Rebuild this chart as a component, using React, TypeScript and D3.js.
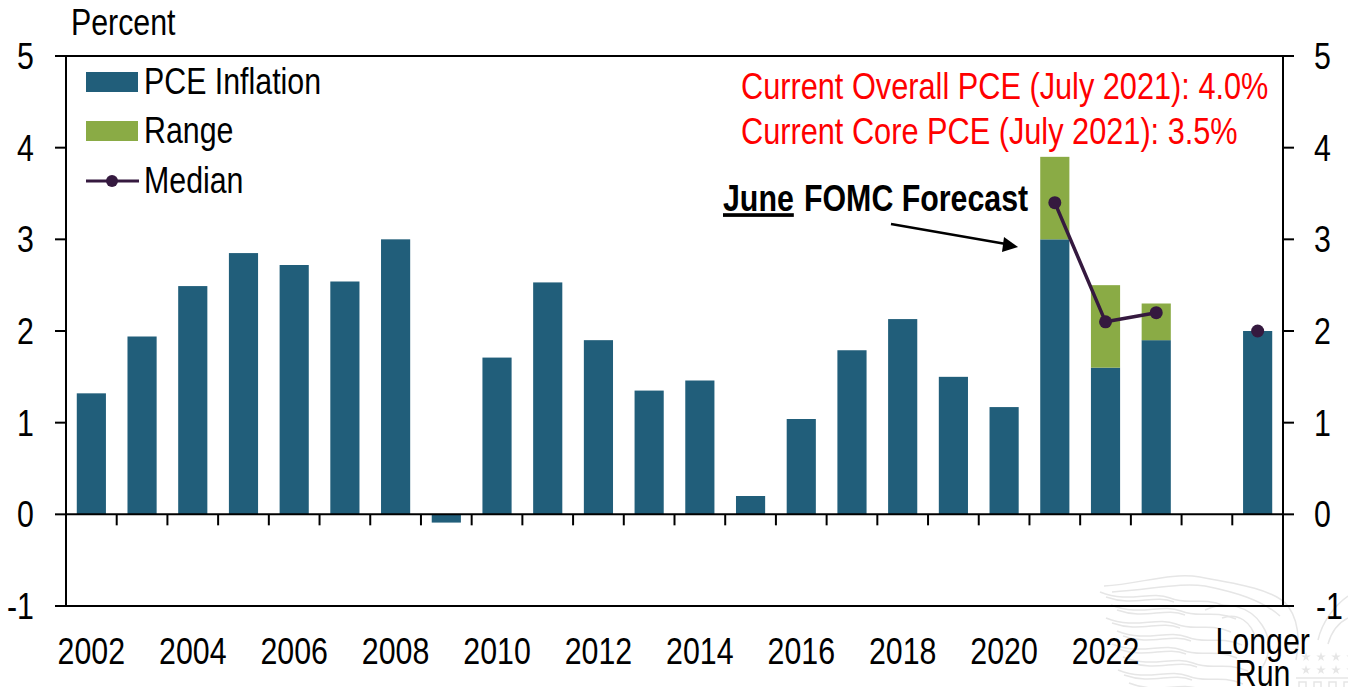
import { useEffect, useRef } from 'react';
import * as d3 from 'd3';

const categories = ['2002','2003','2004','2005','2006','2007','2008','2009','2010','2011','2012','2013','2014','2015','2016','2017','2018','2019','2020','2021','2022','2023','blank','LR'];
const pceValues = [1.32,1.94,2.49,2.85,2.72,2.54,3.0,-0.09,1.71,2.53,1.9,1.35,1.46,0.2,1.04,1.79,2.13,1.5,1.17,3.0,1.6,1.9,null,2.0];
const rangeCats = ['2021','2022','2023'];
const rangeLow = [3.0,1.6,1.9];
const rangeHigh = [3.9,2.5,2.3];
const medianCats = ['2021','2022','2023'];
const medianValues = [3.4,2.1,2.2];
const longerRunMedian = 2.0;
const yTicks = [-1,0,1,2,3,4,5];

const BLUE = '#215e7a';
const GREEN = '#8aab45';
const PURPLE = '#35193f';
const FONT = '"Liberation Sans", Arial, sans-serif';

export default function App() {
  const svgRef = useRef<SVGSVGElement>(null);

  useEffect(() => {
    const svg = d3.select(svgRef.current);
    svg.selectAll('*').remove();
    svg.attr('font-family', FONT);

    const left = 66, right = 1283, top = 56, bottom = 606;
    const x = d3.scaleBand().domain(categories).range([left, right]).paddingInner(0.425).paddingOuter(0.2125);
    const y = d3.scaleLinear().domain([-1, 5]).range([bottom, top]);
    const cx = (c: string) => x(c)! + x.bandwidth() / 2;
    const step = (right - left) / categories.length;

    // faint eagle watermark in the corner, behind everything
    const mark = svg.append('g').attr('fill', 'none').attr('stroke', '#e6e6e6').attr('stroke-width', 1.5);
    d3.range(8).forEach(i => {
      const y0 = 592 + i * 13;
      const x0 = 1100 + (i % 2) * 8 + i * 3;
      mark.append('path').attr('d', `M${x0},${y0} C${x0 + 30},${y0 + 12} ${x0 + 50},${y0 - 2} ${x0 + 70},${y0 + 6} S${x0 + 100},${y0 + 4} ${x0 + 125},${y0 + 14}`);
      mark.append('path').attr('d', `M${x0 + 6},${y0 + 5} C${x0 + 34},${y0 + 15} ${x0 + 54},${y0 + 2} ${x0 + 74},${y0 + 10}`);
    });
    mark.append('path').attr('d', 'M1104,586 C1140,584 1170,572 1200,577 C1240,584 1275,590 1288,606 C1298,620 1300,640 1296,660');
    mark.append('path').attr('d', 'M1112,592 C1150,590 1180,582 1205,586 C1235,592 1262,600 1280,616');
    mark.append('path').attr('d', 'M1205,610 C1225,600 1250,606 1262,625 C1272,640 1270,655 1262,668');
    mark.append('path').attr('d', 'M1222,618 C1238,612 1252,622 1256,640');
    mark.append('path').attr('d', 'M1318,640 C1322,622 1335,605 1348,596');
    mark.append('path').attr('d', 'M1328,644 C1332,630 1340,622 1348,618');
    mark.append('line').attr('x1', 1296).attr('x2', 1348).attr('y1', 678).attr('y2', 678);
    const star = d3.symbol().type(d3.symbolStar).size(28);
    d3.range(4).forEach(i => {
      d3.range(2).forEach(j => {
        mark.append('path').attr('d', star()).attr('transform', `translate(${1306 + i * 15},${657 + j * 13})`)
          .attr('fill', '#e6e6e6').attr('stroke', 'none');
      });
      mark.append('rect').attr('x', 1299 + i * 15).attr('y', 682).attr('width', 7).attr('height', 7);
    });

    // bars
    svg.append('g').selectAll('rect')
      .data(categories.map((c, i) => ({ c, v: pceValues[i] })).filter(d => d.v !== null))
      .join('rect')
      .attr('x', d => x(d.c)!)
      .attr('width', x.bandwidth())
      .attr('y', d => y(Math.max(0, d.v as number)))
      .attr('height', d => Math.abs(y(d.v as number) - y(0)))
      .attr('fill', BLUE);

    svg.append('g').selectAll('rect')
      .data(rangeCats.map((c, i) => ({ c, lo: rangeLow[i], hi: rangeHigh[i] })))
      .join('rect')
      .attr('x', d => x(d.c)!)
      .attr('width', x.bandwidth())
      .attr('y', d => y(d.hi))
      .attr('height', d => y(d.lo) - y(d.hi))
      .attr('fill', GREEN);

    // frame + axes
    const axes = svg.append('g').attr('stroke', '#000').attr('stroke-width', 2).attr('fill', 'none');
    axes.append('line').attr('x1', left - 11).attr('x2', right).attr('y1', top).attr('y2', top);
    axes.append('line').attr('x1', left - 11).attr('x2', right + 11).attr('y1', bottom).attr('y2', bottom);
    axes.append('line').attr('x1', left).attr('x2', left).attr('y1', top).attr('y2', bottom);
    axes.append('line').attr('x1', right).attr('x2', right).attr('y1', top).attr('y2', bottom);
    axes.append('line').attr('x1', left).attr('x2', right).attr('y1', y(0)).attr('y2', y(0));
    yTicks.forEach(t => {
      axes.append('line').attr('x1', left - 11).attr('x2', left).attr('y1', y(t)).attr('y2', y(t));
      axes.append('line').attr('x1', right).attr('x2', right + 11).attr('y1', y(t)).attr('y2', y(t));
    });
    d3.range(1, categories.length).forEach(i => {
      const px = left + i * step;
      axes.append('line').attr('x1', px).attr('x2', px).attr('y1', y(0)).attr('y2', y(0) + 11);
    });

    // median
    const line = d3.line<number>().x((_, i) => cx(medianCats[i])).y(d => y(d));
    svg.append('path').attr('d', line(medianValues)).attr('fill', 'none').attr('stroke', PURPLE).attr('stroke-width', 3.5);
    svg.append('g').selectAll('circle')
      .data([...medianCats.map((c, i) => ({ c, v: medianValues[i] })), { c: 'LR', v: longerRunMedian }])
      .join('circle')
      .attr('cx', d => cx(d.c))
      .attr('cy', d => y(d.v))
      .attr('r', 6.5)
      .attr('fill', PURPLE);

    // no narrow font installed, so squeeze Liberation Sans sideways
    const text = (s: string, px: number, py: number, anchor = 'start', fill = '#000', weight = 'normal', sx = 0.82) =>
      svg.append('text').attr('transform', `translate(${px},${py}) scale(${sx},1)`).attr('text-anchor', anchor)
        .attr('font-size', 37).attr('fill', fill).attr('font-weight', weight).text(s);

    // y labels
    yTicks.forEach(t => {
      text(String(t), 34, y(t) + 13, 'end');
      text(String(t), t < 0 ? 1316 : 1314, y(t) + 13);
    });
    text('Percent', 71, 35);

    // x labels
    categories.forEach((c, i) => {
      if (i < 22 && i % 2 === 0) text(c, cx(c), 664, 'middle');
    });
    text('Longer', cx('LR') + 5, 654, 'middle');
    text('Run', cx('LR') + 5, 686, 'middle');

    // legend
    svg.append('rect').attr('x', 86).attr('y', 72).attr('width', 52).attr('height', 20).attr('fill', BLUE);
    svg.append('rect').attr('x', 86).attr('y', 121).attr('width', 52).attr('height', 20).attr('fill', GREEN);
    svg.append('line').attr('x1', 86).attr('x2', 139).attr('y1', 181).attr('y2', 181).attr('stroke', PURPLE).attr('stroke-width', 3);
    svg.append('circle').attr('cx', 112).attr('cy', 181).attr('r', 6).attr('fill', PURPLE);
    text('PCE Inflation', 144, 94);
    text('Range', 144, 143);
    text('Median', 144, 193);

    // annotations
    text('Current Overall PCE (July 2021): 4.0%', 741, 99, 'start', '#ff0000', 'normal', 0.83);
    text('Current Core PCE (July 2021): 3.5%', 741, 144, 'start', '#ff0000', 'normal', 0.83);
    text('June', 723, 211, 'start', '#000', 'bold').attr('text-decoration', 'underline');
    text('FOMC Forecast', 804, 211, 'start', '#000', 'bold');

    svg.append('line').attr('x1', 891).attr('y1', 224).attr('x2', 1006).attr('y2', 244).attr('stroke', '#000').attr('stroke-width', 2.5);
    svg.append('path').attr('d', 'M1018,247 L1004,237 L1002,252 Z').attr('fill', '#000');
  }, []);

  return (
    <svg ref={svgRef} width={1348} height={687} style={{ position: 'absolute', left: 0, top: 0, background: '#fff' }} />
  );
}
